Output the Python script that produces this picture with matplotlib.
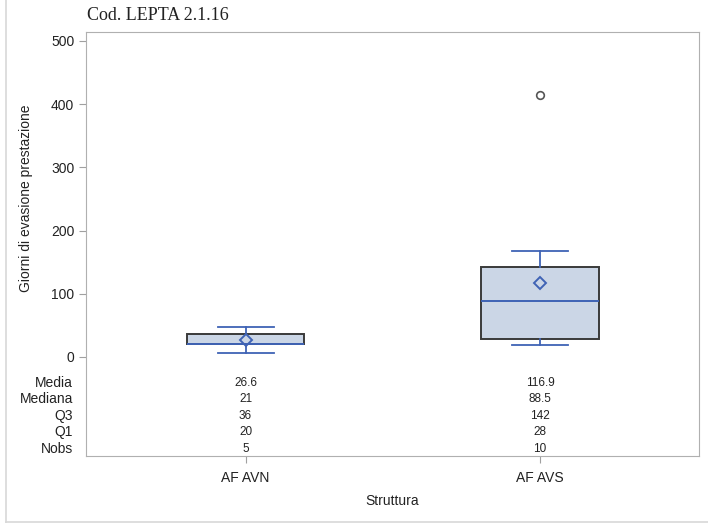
import matplotlib.pyplot as plt
from matplotlib.lines import Line2D

# dati
strutture = ["AF AVN", "AF AVS"]
media = [26.6, 116.9]
mediana = [21, 88.5]
q3 = [36, 142]
q1 = [20, 28]
nobs = [5, 10]
baffo_basso = [7, 19]
baffo_alto = [47, 168]
outlier = [[], [415]]
yticks = [0, 100, 200, 300, 400, 500]

plt.rcParams['font.family'] = ['Liberation Sans', 'DejaVu Sans']

fig = plt.figure(figsize=(7.08, 5.23), dpi=100)
W, H = 708, 523
ax = fig.add_axes([86 / W, 1 - 456 / H, (699 - 86) / W, (456 - 32) / H])

stats = []
for i in range(len(strutture)):
    stats.append({
        'label': strutture[i], 'mean': media[i], 'med': mediana[i],
        'q1': q1[i], 'q3': q3[i], 'whislo': baffo_basso[i],
        'whishi': baffo_alto[i], 'fliers': outlier[i],
    })

blu = '#3f63b5'
ax.bxp(stats, positions=[1, 2], widths=0.4, showmeans=True, patch_artist=True,
       boxprops=dict(facecolor='#cbd6e6', edgecolor='#3a3a3a', linewidth=1.4),
       medianprops=dict(color=blu, linewidth=1.4),
       whiskerprops=dict(color=blu, linewidth=1.3),
       capprops=dict(color=blu, linewidth=1.3),
       capwidths=0.19,
       meanprops=dict(marker='D', markerfacecolor='none', markeredgecolor=blu,
                      markersize=6.5, markeredgewidth=1.4),
       flierprops=dict(marker='o', markerfacecolor='none', markeredgecolor='#555555',
                       markersize=5.5, markeredgewidth=1.2))

# scala: 0 a y=357px, 500 a y=41px
ppu = (357 - 41) / 500
ax.set_ylim(-(456 - 357) / ppu, (357 - 32) / ppu)
ax.set_xlim(0.458, 2.54)
ax.set_yticks(yticks)
ax.set_xticks([1, 2])
ax.set_xticklabels(strutture)

for s in ax.spines.values():
    s.set_color('#b0b0b0')
ax.tick_params(colors='#a0a0a0', labelcolor='#222222', labelsize=10, length=5)
ax.tick_params(axis='x', pad=6)

ax.set_ylabel('Giorni di evasione prestazione', fontsize=10, color='#222222')
ax.yaxis.set_label_coords(-((86 - 33) / (699 - 86)), 1 - (198 - 32) / (456 - 32))
ax.set_xlabel('Struttura', fontsize=10, color='#222222', labelpad=6)

# tabella statistiche
righe = ['Media', 'Mediana', 'Q3', 'Q1', 'Nobs']
valori = [media, mediana, q3, q1, nobs]
righe_y = [383, 399, 416, 432, 449]
for nome, vals, py in zip(righe, valori, righe_y):
    ya = (456 - py) / (456 - 32)
    ax.text(73 / W, 1 - py / H, nome, transform=fig.transFigure, ha='right',
            va='center', fontsize=10, color='#222222')
    for xpos, v in zip([1, 2], vals):
        ax.text(xpos, ya, f'{v:g}', transform=ax.get_xaxis_transform(),
                ha='center', va='center', fontsize=8.5, color='#222222')

fig.text(87 / W, 1 - 15 / H, 'Cod. LEPTA 2.1.16', family='Liberation Serif',
         fontsize=13, va='center', ha='left', color='#222222')

# cornice esterna
fig.add_artist(Line2D([6 / W, 6 / W], [0, 1], transform=fig.transFigure,
                      color='#d8d8d8', linewidth=1.2))
fig.add_artist(Line2D([6 / W, 1], [1 - 522 / H, 1 - 522 / H], transform=fig.transFigure,
                      color='#d8d8d8', linewidth=1.2))

fig.savefig('out.png', dpi=100)
